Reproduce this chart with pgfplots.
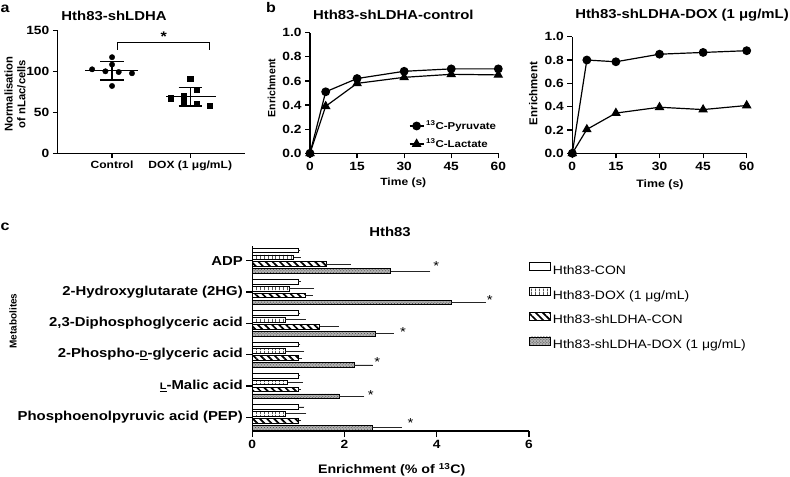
\documentclass[border=0pt]{standalone}
\usepackage{fontspec}
\setmainfont{Liberation Sans}[FakeStretch=1.15]
\newfontfamily\plainsans{Liberation Sans}
\usepackage{pgfplots}
\pgfplotsset{compat=1.18}
\usetikzlibrary{patterns,patterns.meta}

\newcommand{\fs}[1]{\fontsize{#1}{#1}\selectfont}

\pgfplotsset{
  panel/.style={
    scale only axis, axis lines=left, clip=false,
    axis line style={-, line width=1.2bp, black},
    tick style={line width=1.2bp, black},
    tick align=outside, major tick length=5bp,
    tick label style={font=\bfseries\fs{12}, black},
    /pgf/number format/assume math mode=true,
  },
}

\begin{document}
\begin{tikzpicture}
\useasboundingbox (0,0) rectangle (790bp,-477bp);

% ---------- panel a ----------
\begin{axis}[panel, at={(57.3bp,-153.3bp)}, anchor=south west,
  width=187.7bp, height=123bp,
  xmin=-0.7, xmax=1.7, ymin=0, ymax=150,
  ytick={0,50,100,150}, xtick={0,1},
  xticklabels={Control, DOX (1 μg/mL)},
  xticklabel style={font=\bfseries\fs{10.5}},
  major tick length=4.5bp]
\addplot[only marks, mark=*, mark size=2.7bp, black] coordinates {
  (-0.255,102.4) (-0.085,100) (0,108.2) (0,117.2) (0.085,99.1) (0.255,97.6) (0,82.1)};
\addplot[only marks, mark=square*, mark size=2.6bp, black] coordinates {
  (0.75,67.1) (0.915,70.2) (0.915,62.9) (1,91) (1.085,78) (1.085,60.5) (1.25,58.5)};
% mean +/- SD
\addplot[black, line width=1.2bp] coordinates {(-0.34,100.7) (0.33,100.7)};
\addplot[black, line width=1.2bp] coordinates {(0,89.4) (0,112)};
\addplot[black, line width=1.2bp] coordinates {(-0.15,112) (0.15,112)};
\addplot[black, line width=1.2bp] coordinates {(-0.15,89.4) (0.15,89.4)};
\addplot[black, line width=1.2bp] coordinates {(0.69,69.5) (1.33,69.5)};
\addplot[black, line width=1.2bp] coordinates {(1,57.7) (1,80.5)};
\addplot[black, line width=1.2bp] coordinates {(0.85,80.5) (1.15,80.5)};
\addplot[black, line width=1.2bp] coordinates {(0.85,57.7) (1.15,57.7)};
% significance bracket
\addplot[black, line width=1bp] coordinates {(0.07,126) (0.07,135) (1.25,135) (1.25,126)};
\node[font=\bfseries\fs{14}, yshift=1bp] at (axis cs:0.66,140.6) {*};
\end{axis}

\node[font=\bfseries\fs{14}] at (5bp,-9bp) {a};
\node[font=\bfseries\fs{13}] at (114bp,-16bp) {Hth83-shLDHA};
\node[rotate=90, align=center, font=\plainsans\bfseries\fs{11.3}] at (15bp,-94bp)
  {Normalisation\\[1.5bp]of nLac/cells};

% ---------- panel b, control ----------
\begin{axis}[panel, at={(310bp,-153.3bp)}, anchor=south west,
  width=188.3bp, height=120.6bp,
  xmin=0, xmax=60, ymin=0, ymax=1,
  xtick={0,15,30,45,60}, ytick={0,0.2,0.4,0.6,0.8,1},
  yticklabel style={/pgf/number format/.cd, fixed, fixed zerofill, precision=1},
  legend style={at={(axis description cs:1,0.152)}, anchor=east, draw=none, fill=none,
    font=\bfseries\fs{10}, row sep=4bp, inner sep=0pt},
  legend cell align=left,
  legend image code/.code={\draw[mark repeat=2, mark phase=2, #1]
    plot coordinates {(0bp,0bp) (7bp,0bp) (14bp,0bp)};}]
\addplot[black, line width=1.2bp, mark=*, mark size=3.8bp, mark options={solid}]
  coordinates {(0,0) (5,0.51) (15,0.62) (30,0.68) (45,0.70) (60,0.70)};
\addlegendentry{\textsuperscript{13}C-Pyruvate}
\addplot[black, line width=1.2bp, mark=triangle*, mark size=4.4bp, mark options={solid}]
  coordinates {(0,0) (5,0.39) (15,0.58) (30,0.63) (45,0.655) (60,0.65)};
\addlegendentry{\textsuperscript{13}C-Lactate}
\end{axis}

\node[font=\bfseries\fs{14}] at (271bp,-8bp) {b};
\node[font=\bfseries\fs{13}] at (393.3bp,-15bp) {Hth83-shLDHA-control};
\node[rotate=90, font=\plainsans\bfseries\fs{10.6}] at (271.7bp,-88bp) {Enrichment};
\node[font=\bfseries\fs{10.5}] at (403.3bp,-183bp) {Time (s)};

% ---------- panel b, DOX ----------
\begin{axis}[panel, at={(572.3bp,-153.3bp)}, anchor=south west,
  width=174.4bp, height=116.6bp,
  xmin=0, xmax=60, ymin=0, ymax=1,
  xtick={0,15,30,45,60}, ytick={0,0.2,0.4,0.6,0.8,1},
  yticklabel style={/pgf/number format/.cd, fixed, fixed zerofill, precision=1}]
\addplot[black, line width=1.2bp, mark=*, mark size=3.8bp, mark options={solid}]
  coordinates {(0,0) (5,0.80) (15,0.785) (30,0.85) (45,0.865) (60,0.88)};
\addplot[black, line width=1.2bp, mark=triangle*, mark size=4.4bp, mark options={solid}]
  coordinates {(0,0) (5,0.205) (15,0.345) (30,0.395) (45,0.375) (60,0.41)};
\end{axis}

\node[font=\bfseries\fs{13}] at (682bp,-15.5bp) {Hth83-shLDHA-DOX (1 μg/mL)};
\node[rotate=90, font=\plainsans\bfseries\fs{11.5}] at (533.3bp,-93.5bp) {Enrichment};
\node[font=\bfseries\fs{10.8}] at (660bp,-185bp) {Time (s)};

% ---------- panel c ----------
\begin{axis}[panel, at={(252.3bp,-431bp)}, anchor=south west,
  width=276.7bp, height=185.3bp,
  xmin=0, xmax=6, ymin=-0.44, ymax=5.48,
  xtick={0,2,4,6}, ytick={0,1,2,3,4,5},
  yticklabels={Phosphoenolpyruvic acid (PEP),
    \underline{\fs{9.5}L}-Malic acid,
    2-Phospho-\underline{\fs{9.5}D}-glyceric acid,
    {2,3-Diphosphoglyceric acid},
    2-Hydroxyglutarate (2HG),
    ADP},
  yticklabel style={font=\bfseries\fs{13}},
  major tick length=6bp,
  xbar legend/.style={legend image code/.code={\draw[##1] (0bp,0bp) rectangle (21bp,8bp);}},
  xbar, bar width=0.15,
  error bars/x dir=plus, error bars/x explicit, error bars/error mark=none,
  error bars/error bar style={line width=0.8bp, black!85},
  legend style={at={(axis description cs:1,0.668)}, anchor=west, draw=none, fill=none,
    font=\fs{12.2}, row sep=9.2bp, inner sep=0pt},
  legend cell align=left]
\addplot[bar shift=0.33, draw=black, line width=0.8bp, fill=white] coordinates {
  (0.99,0) +- (0.14,0) (0.99,1) +- (0.05,0) (0.99,2) +- (0.05,0)
  (0.99,3) +- (0.05,0) (1.0,4) +- (0.05,0) (1.0,5) +- (0.04,0)};
\addlegendentry{Hth83-CON}
\addplot[bar shift=0.11, draw=black, line width=0.8bp,
  pattern={Lines[angle=90, distance=3.6bp, line width=0.7bp]}] coordinates {
  (0.72,0) +- (0.45,0) (0.77,1) +- (0.32,0) (0.71,2) +- (0.42,0)
  (0.71,3) +- (0.45,0) (0.80,4) +- (0.54,0) (0.90,5) +- (0.15,0)};
\addlegendentry{Hth83-DOX (1 μg/mL)}
\addplot[bar shift=-0.11, draw=black, line width=0.8bp,
  pattern={Lines[angle=-45, distance=5bp, line width=1.7bp]}] coordinates {
  (1.01,0) +- (0.05,0) (1.0,1) +- (0.05,0) (1.01,2) +- (0.07,0)
  (1.46,3) +- (0.42,0) (1.16,4) +- (0.15,0) (1.60,5) +- (0.54,0)};
\addlegendentry{Hth83-shLDHA-CON}
\addplot[bar shift=-0.33, draw=black, line width=0.8bp,
  preaction={fill=black!30}, pattern=crosshatch dots, pattern color=black!75] coordinates {
  (2.60,0) +- (0.65,0) (1.89,1) +- (0.54,0) (2.21,2) +- (0.40,0)
  (2.67,3) +- (0.40,0) (4.31,4) +- (0.76,0) (3.00,5) +- (0.86,0)};
\addlegendentry{Hth83-shLDHA-DOX (1 μg/mL)}
\node[font=\fs{13}, yshift=-2.5bp] at (axis cs:3.99,4.92) {*};
\node[font=\fs{13}, yshift=-2.5bp] at (axis cs:5.15,3.82) {*};
\node[font=\fs{13}, yshift=-2.5bp] at (axis cs:3.27,2.81) {*};
\node[font=\fs{13}, yshift=-2.5bp] at (axis cs:2.71,1.84) {*};
\node[font=\fs{13}, yshift=-2.5bp] at (axis cs:2.57,0.79) {*};
\node[font=\fs{13}, yshift=-2.5bp] at (axis cs:3.43,-0.11) {*};
\end{axis}

\node[font=\bfseries\fs{14}] at (5bp,-227bp) {c};
\node[font=\bfseries\fs{13}] at (390bp,-231.7bp) {Hth83};
\node[rotate=90, font=\plainsans\bfseries\fs{10}] at (13bp,-321bp) {Metabolites};
\node[font=\bfseries\fs{12.4}] at (391.7bp,-470bp) {Enrichment (\% of \textsuperscript{13}C)};
\end{tikzpicture}
\end{document}
